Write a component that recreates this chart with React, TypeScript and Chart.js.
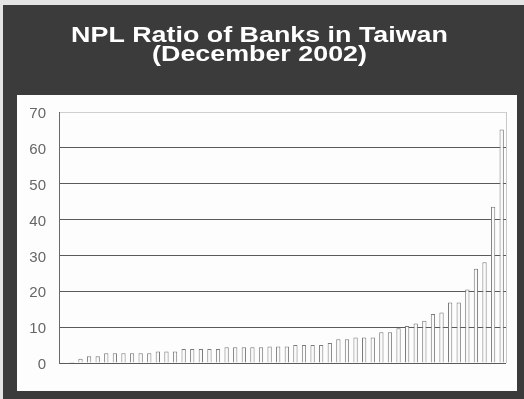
import React, { useEffect, useRef } from "react";
import { Chart, registerables } from "chart.js";

Chart.register(...registerables);

const titleLines = ["NPL Ratio of Banks in Taiwan", "(December 2002)"];
const bankLabels = Array.from({ length: 52 }, (_, i) => `Bank ${i + 1}`);
const nplRatio = [
  0, 0.3, 1.2, 1.9, 1.9,
  2.7, 2.7, 2.7, 2.7, 2.7, 2.7,
  3.2, 3.2, 3.2,
  3.9, 3.9, 3.9, 3.9, 3.9,
  4.4, 4.4, 4.4, 4.4, 4.4,
  4.6, 4.6, 4.6,
  5.0, 5.0, 5.0, 5.0,
  5.6, 6.6, 6.6,
  7.1, 7.1, 7.1,
  8.6, 8.6, 9.7, 10.3, 11.0, 11.8, 13.7, 14.1,
  16.9, 16.9, 20.5, 26.3, 28.1, 43.6, 65.1,
];
const yMin = 0;
const yMax = 70;
const yStep = 10;

const backgroundPlugin = {
  id: "panelBackground",
  beforeDraw(chart: any) {
    const { ctx, width, height } = chart;
    ctx.save();
    ctx.fillStyle = "#e4e4e4";
    ctx.fillRect(0, 0, width, height);
    ctx.fillStyle = "#3b3b3b";
    ctx.fillRect(3, 5, width - 3, height - 5);
    ctx.fillStyle = "#fdfdfd";
    ctx.fillRect(17, 95, 500, 296);
    // title (stretched horizontally like the original slide)
    ctx.fillStyle = "#ffffff";
    ctx.font = "bold 22px 'Liberation Sans', Arial, sans-serif";
    ctx.textAlign = "center";
    ctx.textBaseline = "alphabetic";
    const baselines = [41.5, 60.5];
    titleLines.forEach((line, i) => {
      ctx.save();
      ctx.translate(259.5, baselines[i]);
      ctx.scale(1.22, 1);
      ctx.fillText(line, 0, 0);
      ctx.restore();
    });
    ctx.restore();
  },
  afterDraw(chart: any) {
    const { ctx, chartArea } = chart;
    ctx.save();
    ctx.strokeStyle = "#c8c8c8";
    ctx.lineWidth = 1;
    ctx.beginPath();
    ctx.moveTo(Math.round(chartArea.right) + 0.5, chartArea.top);
    ctx.lineTo(Math.round(chartArea.right) + 0.5, chartArea.bottom);
    ctx.stroke();
    ctx.restore();
  },
};

export default function App() {
  const ref = useRef<HTMLCanvasElement | null>(null);
  useEffect(() => {
    if (!ref.current) return;
    const chart = new Chart(ref.current, {
      type: "bar",
      data: {
        labels: bankLabels,
        datasets: [
          {
            data: nplRatio,
            backgroundColor: "#fafafa",
            borderColor: "#7a7a7a",
            borderWidth: 1,
            barPercentage: 0.5,
            categoryPercentage: 1,
          },
        ],
      },
      options: {
        animation: false,
        responsive: false,
        maintainAspectRatio: false,
        layout: { padding: { left: 0, right: 18, top: 112, bottom: 36 } },
        plugins: {
          legend: { display: false },
          tooltip: { enabled: false },
          title: { display: false },
        },
        scales: {
          x: { display: false },
          y: {
            min: yMin,
            max: yMax,
            afterFit(scale: any) {
              scale.width = 59;
            },
            ticks: {
              stepSize: yStep,
              color: "#666666",
              padding: 13,
              labelOffset: 2,
              font: { family: "'Liberation Sans', Arial, sans-serif", size: 15 },
            },
            grid: {
              drawTicks: false,
              tickLength: 0,
              color: (ctx: any) => (ctx.tick && ctx.tick.value === yMax ? "#cfcfcf" : "#5a5a5a"),
              lineWidth: 1,
            },
            border: { display: true, color: "#6a6a6a", width: 1 },
          },
        },
      },
      plugins: [backgroundPlugin],
    });
    return () => chart.destroy();
  }, []);
  return (
    <div style={{ position: "fixed", left: 0, top: 0, width: 524, height: 399 }}>
      <canvas ref={ref} width={524} height={399} style={{ display: "block" }} />
    </div>
  );
}
